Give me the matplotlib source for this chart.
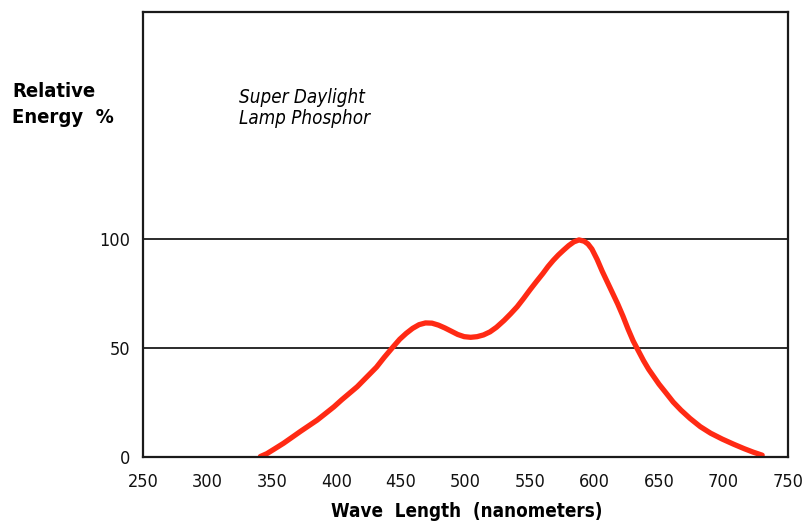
import matplotlib
matplotlib.use("Agg")
import matplotlib.pyplot as plt

plt.rcParams['font.family'] = ['DejaVu Sans']
plt.rcParams['font.stretch'] = 'condensed'

# spectral distribution of the phosphor (nm, relative energy %)
wavelength = [341, 346, 352, 359, 366, 372, 379, 385, 391, 398, 404, 410, 416, 421,
              426, 431, 437, 444, 449, 454, 459, 464, 469, 474, 479, 484, 489, 494,
              499, 504, 509, 514, 519, 524, 530, 535, 540, 545, 550, 555, 560, 564,
              568, 572, 576, 580, 584, 588, 592, 595, 598, 602, 606, 610, 614, 618,
              622, 626, 630, 634, 638, 642, 646, 650, 655, 661, 667, 674, 682, 690,
              699, 708, 716, 723, 730]
energy = [0, 1.3, 3.5, 6.1, 9, 11.5, 14.3, 16.7, 19.5, 22.8, 26, 29, 32, 35,
          38, 41, 45.5, 50.4, 53.8, 56.5, 58.8, 60.5, 61.3, 61.2, 60.3, 59, 57.5, 56,
          55, 54.7, 55, 55.8, 57.2, 59.3, 62.5, 65.5, 68.7, 72.5, 76.5, 80.3, 84, 87.2,
          90, 92.5, 94.7, 96.8, 98.5, 99.4, 98.8, 97.5, 95.2, 90.5, 85, 80, 75, 70,
          64.5, 58.5, 53, 48.5, 44, 40, 36.6, 33.2, 29.5, 25, 21.3, 17.5, 13.7, 10.7,
          8, 5.6, 3.6, 2, 0.6]

xticks = [250, 300, 350, 400, 450, 500, 550, 600, 650, 700, 750]
yticks = [0, 50, 100]
ref_lines = [50, 100]

fig = plt.figure(figsize=(8.04, 5.22), dpi=100)
ax = fig.add_axes([143/804, 1 - 456.5/522, (788-143)/804, (456.5-12)/522])

for yv in ref_lines:
    ax.axhline(yv, color='#1a1a1a', lw=1.3, zorder=1)

ax.plot(wavelength, energy, color='#ff2a14', lw=3.8, solid_capstyle='round',
        solid_joinstyle='round', zorder=2)

ax.set_xlim(250, 750)
ax.set_ylim(0, 204)
ax.set_xticks(xticks)
ax.set_yticks(yticks)
ax.tick_params(length=0, labelsize=13, colors='#111111')
ax.tick_params(axis='x', pad=12)
ax.tick_params(axis='y', pad=9)
for t in ax.get_xticklabels() + ax.get_yticklabels():
    t.set_fontweight('medium')
for s in ax.spines.values():
    s.set_color('#1a1a1a')
    s.set_linewidth(1.6)

fig.text(467/804, 1 - 517/522, 'Wave  Length  (nanometers)', fontsize=13.5,
         fontweight='bold', ha='center', va='baseline')

fig.text(12/804, 1 - 97/522, 'Relative', fontsize=14.5, fontweight='bold',
         ha='left', va='baseline')
fig.text(12/804, 1 - 123/522, 'Energy  %', fontsize=14.5, fontweight='bold',
         ha='left', va='baseline')
fig.text(239/804, 1 - 103/522, 'Super Daylight', fontsize=13.5, style='italic',
         ha='left', va='baseline')
fig.text(239/804, 1 - 124/522, 'Lamp Phosphor', fontsize=13.5, style='italic',
         ha='left', va='baseline')

fig.savefig('out.png', dpi=100, facecolor='white')
